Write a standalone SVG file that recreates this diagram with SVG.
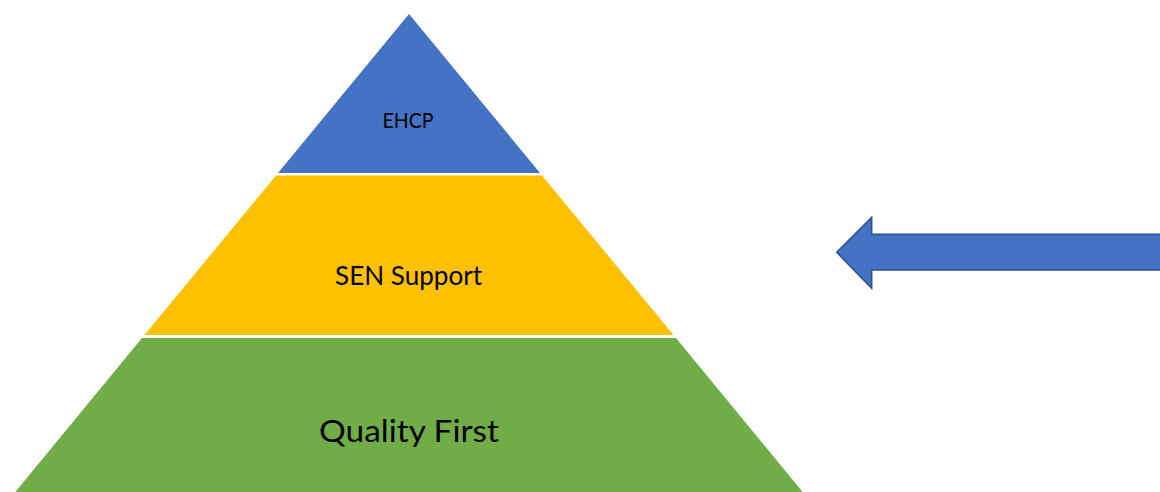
<svg xmlns="http://www.w3.org/2000/svg" width="1160" height="492" viewBox="0 0 1160 492">
  <style>
    .lbl { font-family: "Lato", "Open Sans", "Liberation Sans", sans-serif; fill: #000000; text-anchor: middle; }
    .blue { fill: #4472C4; }
    .yellow { fill: #FFC000; }
    .green { fill: #70AD47; }
  </style>
  <rect x="0" y="0" width="1160" height="492" fill="#FFFFFF"/>
  <g id="ehcp">
    <polygon class="blue" points="409,14 540,173 278,173"/>
    <text class="lbl" x="408" y="128.3" font-size="22" textLength="51" lengthAdjust="spacingAndGlyphs">EHCP</text>
  </g>
  <g id="sen-support">
    <polygon class="yellow" points="276,175.5 542,175.5 673.5,335 144.5,335"/>
    <text class="lbl" x="408.5" y="285" font-size="26.5" textLength="147" lengthAdjust="spacingAndGlyphs">SEN Support</text>
  </g>
  <g id="quality-first">
    <polygon class="green" points="142,338 676,338 806,496 12,496"/>
    <text class="lbl" x="409" y="442.3" font-size="31" textLength="180" lengthAdjust="spacingAndGlyphs">Quality First</text>
  </g>
  <g id="arrow">
    <polygon points="836.7,252.3 871.7,217.3 871.7,234.3 1165,234.3 1165,270 871.7,270 871.7,288.3" fill="#4472C4" stroke="#2F528F" stroke-width="1.5" stroke-linejoin="miter"/>
  </g>
</svg>
